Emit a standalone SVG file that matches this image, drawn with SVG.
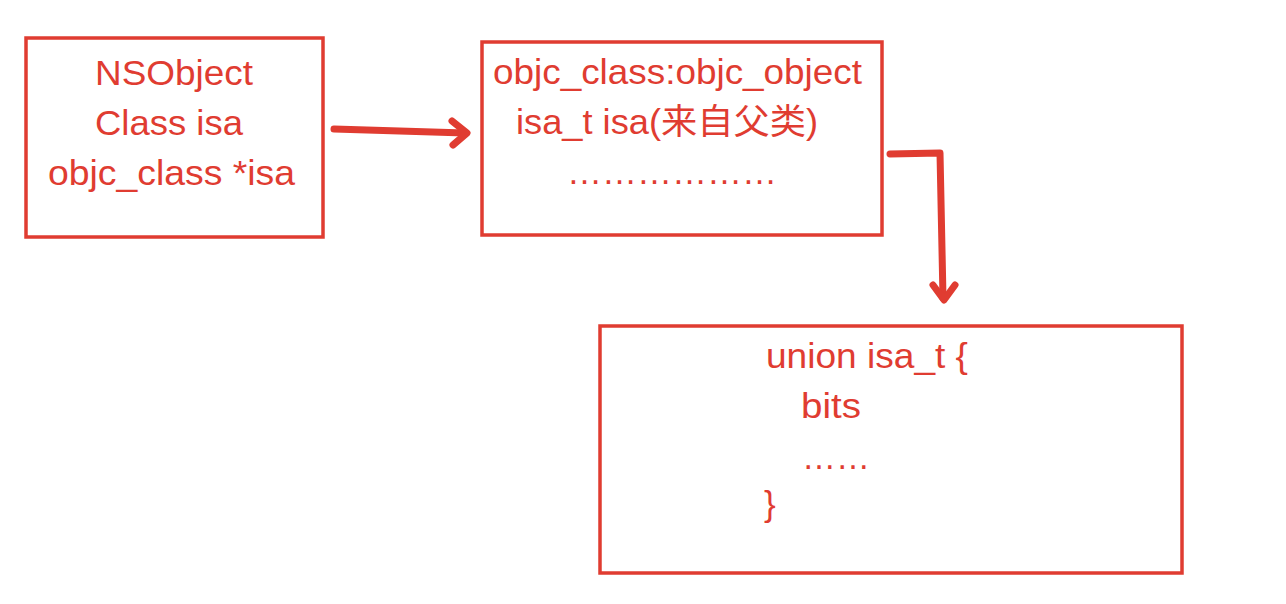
<svg xmlns="http://www.w3.org/2000/svg" width="1286" height="604" viewBox="0 0 1286 604">
<style>
.box{fill:none;stroke:#E03C31;stroke-width:3.5}
.t{font-family:"Liberation Sans","Noto Sans CJK SC",sans-serif;font-size:35px;fill:#E03C31}
.c{fill:none;stroke:#E03C31;stroke-width:7;stroke-linecap:round;stroke-linejoin:round}
</style>
<rect width="1286" height="604" fill="#ffffff"/>
<g id="nsobject">
<rect class="box" x="26" y="38" width="297" height="199"/>
<text class="t" x="95" y="85" textLength="158" lengthAdjust="spacingAndGlyphs">NSObject</text>
<text class="t" x="95" y="135" textLength="148" lengthAdjust="spacingAndGlyphs">Class isa</text>
<text class="t" x="48" y="185" textLength="247" lengthAdjust="spacingAndGlyphs">objc_class *isa</text>
</g>
<g id="objc_class">
<rect class="box" x="482" y="42" width="400" height="193"/>
<text class="t" x="493" y="84" textLength="369" lengthAdjust="spacingAndGlyphs">objc_class:objc_object</text>
<text class="t" x="516" y="134" textLength="302" lengthAdjust="spacingAndGlyphs">isa_t isa(来自父类)</text>
<text class="t" x="567" y="184" textLength="210" lengthAdjust="spacingAndGlyphs">………………</text>
</g>
<g id="isa_t">
<rect class="box" x="600" y="326" width="582" height="247"/>
<text class="t" x="766" y="368" textLength="202" lengthAdjust="spacingAndGlyphs">union isa_t {</text>
<text class="t" x="801" y="418" textLength="60" lengthAdjust="spacingAndGlyphs">bits</text>
<text class="t" x="802" y="469" textLength="68" lengthAdjust="spacingAndGlyphs">……</text>
<text class="t" x="764" y="516">}</text>
</g>
<g id="connectors">
<path class="c" d="M334 129 L465 133"/>
<path class="c" d="M452 121 L467 133 L453 145"/>
<path class="c" d="M890 154 L940 153 L943 298"/>
<path class="c" d="M933 285 L944 300 L955 285"/>
</g>
</svg>
